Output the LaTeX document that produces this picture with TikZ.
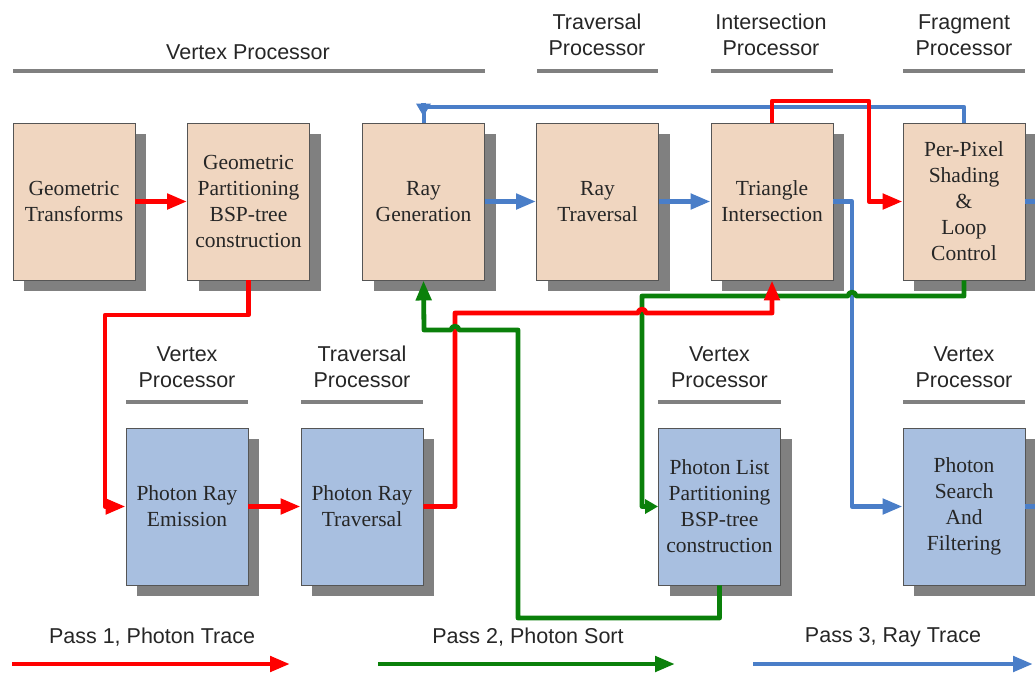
\documentclass[tikz,border=0pt]{standalone}
\usepackage{fontspec}
\setmainfont{Liberation Serif}
\setsansfont{Liberation Sans}
\usetikzlibrary{arrows.meta,shadows}
\definecolor{boxtan}{RGB}{240,214,192}
\definecolor{boxblue}{RGB}{168,191,224}
\definecolor{shadowgray}{RGB}{128,128,128}
\definecolor{edgegray}{RGB}{85,85,85}
\definecolor{rulegray}{RGB}{128,128,128}
\definecolor{pred}{RGB}{255,0,0}
\definecolor{pgreen}{RGB}{10,128,10}
\definecolor{pblue}{RGB}{74,126,200}
\begin{document}
\begin{tikzpicture}[x=1pt,y=-1pt,
  unit/.style={rectangle, draw=edgegray, line width=0.9pt,
    minimum width=122pt, minimum height=157pt, inner sep=2pt,
    align=center, font=\fontsize{21.5}{26}\selectfont, text=black!85,
    general shadow={fill=shadowgray, shadow xshift=11pt, shadow yshift=-11pt}},
  gpuunit/.style={unit, fill=boxtan},
  cpuunit/.style={unit, fill=boxblue},
  stage/.style={align=center, font=\sffamily\fontsize{21.5}{26}\selectfont, text=black!85},
  stagerule/.style={draw=rulegray, line width=4pt},
  flow/.style={line width=4.8pt, line join=round},
  tip/.style={-{Triangle[length=20pt,width=15pt]}},
  cornertip/.style={-{Triangle[length=13pt,width=14pt]}}
]
\useasboundingbox (0,0) rectangle (1035,673);

% processor headings
\node[stage] (h1) at (248,52) {Vertex Processor};
\node[stage] (h2) at (597,35) {Traversal\\Processor};
\node[stage] (h3) at (771,35) {Intersection\\Processor};
\node[stage] (h4) at (964,35) {Fragment\\Processor};
\draw[stagerule] (13,71) -- (485,71);
\draw[stagerule] (537,71) -- (658,71);
\draw[stagerule] (711,71) -- (833,71);
\draw[stagerule] (903,71) -- (1025,71);

\node[stage] (h5) at (187,367) {Vertex\\Processor};
\node[stage] (h6) at (362,367) {Traversal\\Processor};
\node[stage] (h7) at (719.5,367) {Vertex\\Processor};
\node[stage] (h8) at (964,367) {Vertex\\Processor};
\draw[stagerule] (126,402) -- (248,402);
\draw[stagerule] (301,402) -- (423,402);
\draw[stagerule] (658,402) -- (781,402);
\draw[stagerule] (903,402) -- (1025,402);

% processing units
\node[gpuunit] (gt) at (74,201.5) {Geometric\\Transforms};
\node[gpuunit] (gp) at (248.5,201.5) {Geometric\\Partitioning\\BSP-tree\\construction};
\node[gpuunit] (rg) at (423.5,201.5) {Ray\\Generation};
\node[gpuunit] (rt) at (597.5,201.5) {Ray\\Traversal};
\node[gpuunit] (ti) at (772,201.5) {Triangle\\Intersection};
\node[gpuunit] (pp) at (964,201.5) {Per-Pixel\\Shading\\\&\\Loop\\Control};

\node[cpuunit] (pe) at (187,506.5) {Photon Ray\\Emission};
\node[cpuunit] (pt) at (362,506.5) {Photon Ray\\Traversal};
\node[cpuunit] (pl) at (719.5,506.5) {Photon List\\Partitioning\\BSP-tree\\construction};
\node[cpuunit] (ps) at (964,506.5) {Photon\\Search\\And\\Filtering};

% loose ends at the right border and legend arrows
\coordinate (ppout) at (1035,201.5);
\coordinate (psout) at (1035,506.5);
\coordinate (l1a) at (12,664);  \coordinate (l1b) at (290,664);
\coordinate (l2a) at (378,664); \coordinate (l2b) at (675,664);
\coordinate (l3a) at (753,664); \coordinate (l3b) at (1033,664);

% pass 3: ray trace (blue)
\draw[flow,pblue] (pp.north) -- (964,107) -- (424,107) -- (424,123);
\draw[flow,pblue,cornertip] ([yshift=20pt]rg.north) -- ([yshift=6pt]rg.north);
\draw[flow,pblue,tip] (rg.east) -- (rt.west);
\draw[flow,pblue,tip] (rt.east) -- (ti.west);
\draw[flow,pblue,tip] (ti.east) -- (852,201.5) -- (852,506.5) -- (ps.west);
\draw[flow,pblue] (pp.east) -- (ppout);
\draw[flow,pblue] (ps.east) -- (psout);

% pass 1: photon trace (red)
\draw[flow,pred,tip] (gt.east) -- (gp.west);
\draw[flow,pred,tip] (gp.south) -- (248.5,315) -- (105,315) -- (105,506.5) -- (pe.west);
\draw[flow,pred,tip] (pe.east) -- (pt.west);
\draw[flow,pred,tip] (ti.north) -- (772,101) -- (869,101) -- (869,201.5) -- (pp.west);

% pass 2: photon sort (green), with small hops over crossing lines
\draw[flow,pgreen] (pp.south) -- (964,296) -- (856,296)
  .. controls (856,291) and (848,291) .. (848,296) -- (776,296)
  .. controls (776,291) and (768,291) .. (768,296) -- (642,296) -- (642,506.5) -- (645,506.5);
\draw[flow,pgreen,cornertip] (643,506.5) -- (pl.west);

% red path from the photon traversal back to triangle intersection
\draw[flow,pred,tip] (pt.east) -- (455,506.5) -- (455,313) -- (638,313)
  .. controls (638,308) and (646,308) .. (646,313) -- (772,313) -- (ti.south);

\draw[flow,pgreen,tip] (pl.south) -- (719.5,618) -- (518,618) -- (518,330) -- (459,330)
  .. controls (459,325) and (451,325) .. (451,330) -- (424,330) -- (rg.south);

% legend
\node[stage] (p1) at (152,637) {Pass 1, Photon Trace};
\node[stage] (p2) at (528,637) {Pass 2, Photon Sort};
\node[stage] (p3) at (893,637) {Pass 3, Ray Trace};
\draw[flow,pred,tip] (l1a) -- (l1b);
\draw[flow,pgreen,tip] (l2a) -- (l2b);
\draw[flow,pblue,tip] (l3a) -- (l3b);
\end{tikzpicture}
\end{document}
